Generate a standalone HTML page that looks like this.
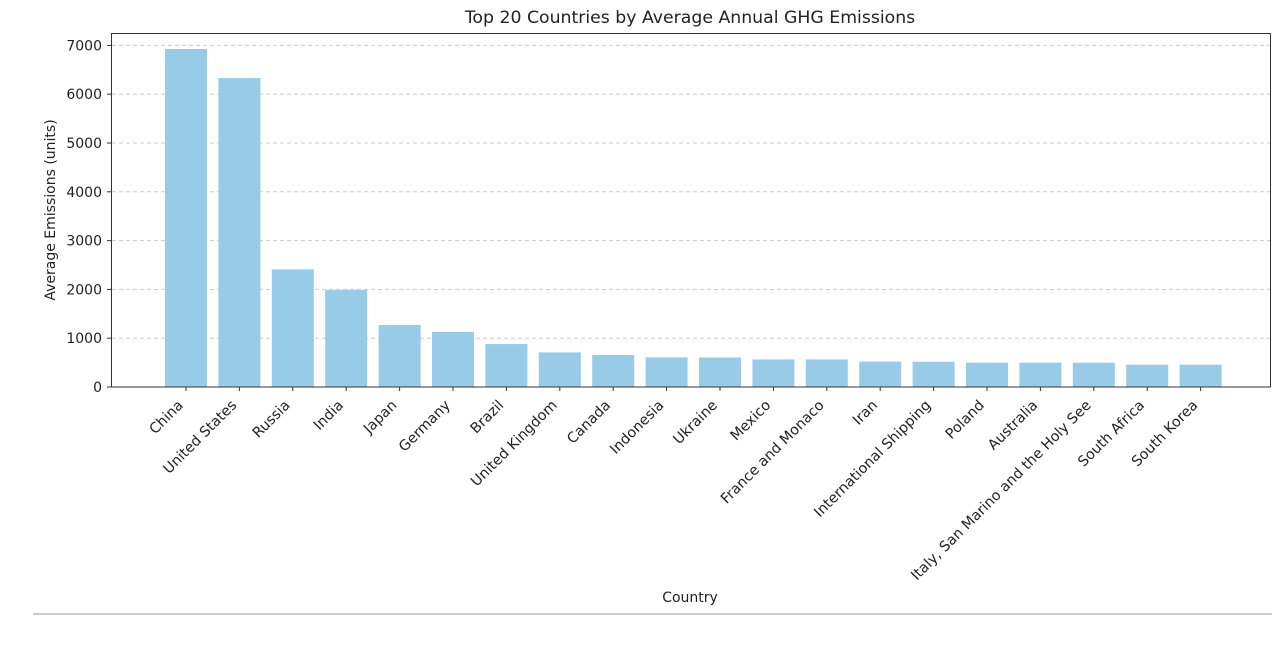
<!DOCTYPE html>
<html><head><meta charset="utf-8"><style>
body{margin:0;background:#fff;width:1284px;height:644px;overflow:hidden;font-family:"DejaVu Sans",sans-serif}
</style></head><body>
<svg id="c" width="1284" height="644" xmlns="http://www.w3.org/2000/svg" font-family="DejaVu Sans, sans-serif">
<text x="690" y="23" font-size="17.3" text-anchor="middle" fill="#222">Top 20 Countries by Average Annual GHG Emissions</text>
<text x="690" y="602" font-size="14" text-anchor="middle" fill="#222">Country</text>
<text transform="translate(55,210) rotate(-90)" font-size="14" text-anchor="middle" fill="#222">Average Emissions (units)</text>
<line x1="33" y1="614" x2="1272" y2="614" stroke="#999" stroke-width="1"/>
<g id="grid"></g><g id="bars"></g><g id="xt"></g><g id="yt"></g>
<rect x="111.5" y="33.5" width="1159" height="353.5" fill="none" stroke="#333" stroke-width="1"/>
</svg>
<script>
const categories=["China","United States","Russia","India","Japan","Germany","Brazil","United Kingdom","Canada","Indonesia","Ukraine","Mexico","France and Monaco","Iran","International Shipping","Poland","Australia","Italy, San Marino and the Holy See","South Africa","South Korea"];
const values=[6926,6330,2410,1990,1270,1130,880,710,655,608,605,565,565,520,518,498,498,498,458,458];
const yTicks=[0,1000,2000,3000,4000,5000,6000,7000];
const NS="http://www.w3.org/2000/svg";
const y0=387,pxPer=48.8/1000;
function yS(v){return y0-v*pxPer;}
function xS(i){return 186+i*53.4;}
const bw=42;
function mk(t,a,p){const e=document.createElementNS(NS,t);for(const k in a)e.setAttribute(k,a[k]);p.appendChild(e);return e;}
const grid=document.getElementById('grid'),bars=document.getElementById('bars'),xt=document.getElementById('xt'),yt=document.getElementById('yt');
yTicks.forEach(v=>{
 const y=yS(v);
 if(v>0){const g=mk('line',{x1:112,x2:1270,y1:y,y2:y,stroke:'#ccc','stroke-dasharray':'4,3'},grid);
 
 }
 const t=mk('line',{x1:107,x2:111,y1:y,y2:y,stroke:'#333'},yt);
 
 
 const l=mk('text',{x:102,y:y+5,'font-size':14,'text-anchor':'end',fill:'#222'},yt);l.textContent=v;
 
 
});
categories.forEach((c,i)=>{
 const x=xS(i),y=yS(values[i]);
 const r=mk('rect',{x:x-bw/2,y:y,width:bw,height:y0-y,fill:'#97cbe7'},bars);
 
 
 const t=mk('line',{x1:x,x2:x,y1:387,y2:391,stroke:'#333'},xt);
 
 
 const l=mk('text',{transform:`translate(${x-2},${406}) rotate(-45)`,'font-size':14.3,'text-anchor':'end',fill:'#222'},xt);l.textContent=c;
 
 
});
</script>
</body></html>
